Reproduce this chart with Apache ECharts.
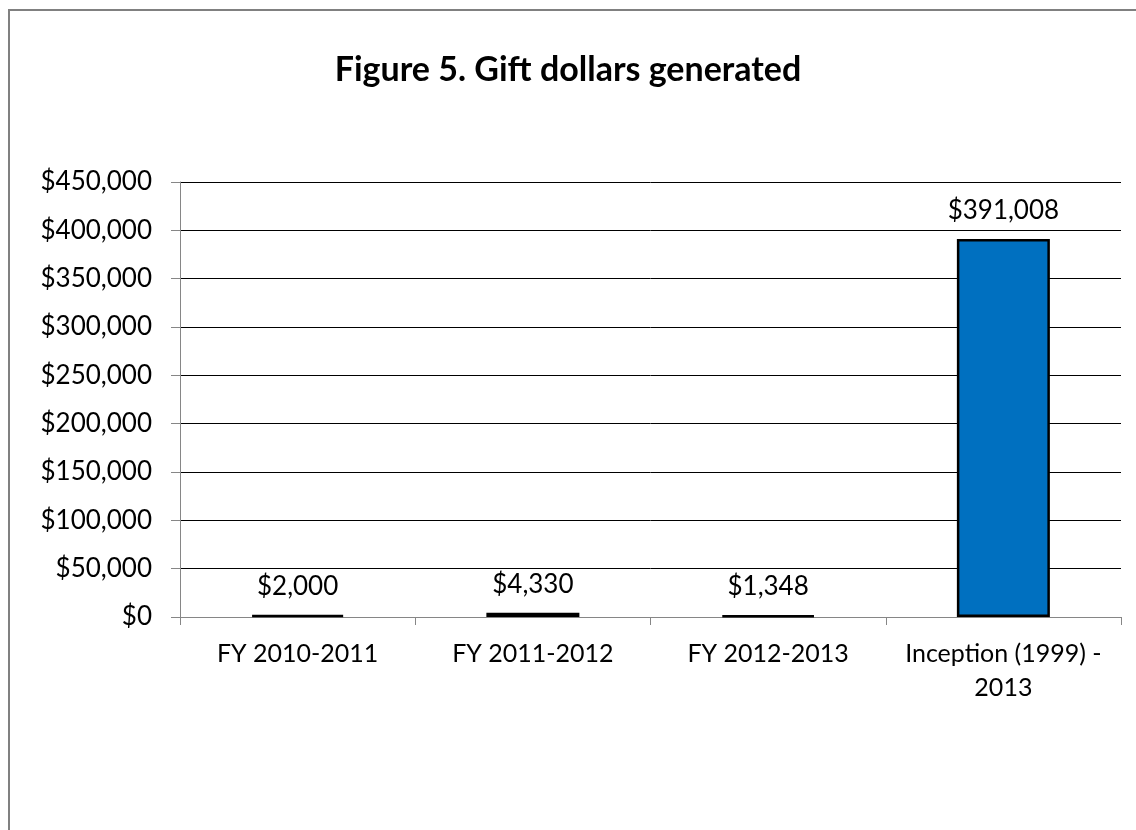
<!DOCTYPE html>
<html>
<head>
<meta charset="utf-8">
<script src="https://cdn.jsdelivr.net/npm/echarts@6/dist/echarts.min.js"></script>
<style>
  html, body { margin: 0; padding: 0; background: #fff; }
  #chart { width: 1136px; height: 830px; }
</style>
</head>
<body>
<div id="chart"></div>
<script>
// Gift dollars by fiscal period
const categories = ['FY 2010-2011', 'FY 2011-2012', 'FY 2012-2013', 'Inception (1999) -\n2013'];
const giftDollars = [2000, 4330, 1348, 391008];
const yTicks = { min: 0, max: 450000, interval: 50000 };

const FONT = 'Lato, "Open Sans", sans-serif';
const money = v => '$' + Math.round(v).toLocaleString('en-US');

const chart = echarts.init(document.getElementById('chart'), null, { renderer: 'canvas' });
chart.setOption({
  animation: false,
  backgroundColor: '#ffffff',
  textStyle: { fontFamily: FONT },
  title: {
    text: 'Figure 5. Gift dollars generated',
    left: 'center',
    top: 48,
    textStyle: { fontFamily: FONT, fontSize: 34, fontWeight: 'bold', color: '#000' }
  },
  graphic: [{
    type: 'rect',
    shape: { x: 9, y: 10, width: 1300, height: 1000 },
    style: { fill: 'none', stroke: '#808080', lineWidth: 2 },
    silent: true
  }],
  grid: { left: 180, right: 15, top: 182, bottom: 213, containLabel: false },
  xAxis: {
    type: 'category',
    data: categories,
    axisLine: { lineStyle: { color: '#868686', width: 1 } },
    axisTick: { show: true, alignWithLabel: false, length: 8, lineStyle: { color: '#868686' } },
    axisLabel: { fontFamily: FONT, fontSize: 25, color: '#000', margin: 20, lineHeight: 34, interval: 0 }
  },
  yAxis: {
    type: 'value',
    min: yTicks.min,
    max: yTicks.max,
    interval: yTicks.interval,
    axisLine: { show: true, lineStyle: { color: '#868686', width: 1 } },
    axisTick: { show: true, inside: false, length: 9, lineStyle: { color: '#868686' } },
    axisLabel: { fontFamily: FONT, fontSize: 26, color: '#000', margin: 28, formatter: money },
    splitLine: { show: true, lineStyle: { color: '#000', width: 1 } }
  },
  series: [{
    type: 'bar',
    data: giftDollars,
    barWidth: 93,
    itemStyle: { color: '#0070C0', borderColor: '#000', borderWidth: 2.5 },
    label: {
      show: true,
      position: 'top',
      distance: 15,
      fontFamily: FONT,
      fontSize: 26,
      color: '#000',
      formatter: p => money(p.value)
    }
  }]
});
</script>
</body>
</html>
